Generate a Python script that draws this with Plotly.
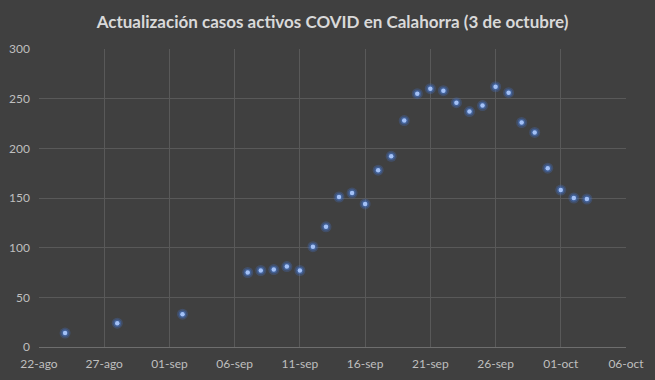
import plotly.graph_objects as go

dates = ["2020-08-24", "2020-08-28", "2020-09-02",
         "2020-09-07", "2020-09-08", "2020-09-09", "2020-09-10", "2020-09-11",
         "2020-09-12", "2020-09-13", "2020-09-14", "2020-09-15", "2020-09-16",
         "2020-09-17", "2020-09-18", "2020-09-19", "2020-09-20", "2020-09-21",
         "2020-09-22", "2020-09-23", "2020-09-24", "2020-09-25", "2020-09-26",
         "2020-09-27", "2020-09-28", "2020-09-29", "2020-09-30", "2020-10-01",
         "2020-10-02", "2020-10-03"]
casos = [14, 24, 33,
         75, 77, 78, 81, 77,
         101, 121, 151, 155, 144,
         178, 192, 228, 255, 260,
         258, 246, 237, 243, 262,
         256, 226, 216, 180, 158,
         150, 149]

tick_vals = ["2020-08-22", "2020-08-27", "2020-09-01", "2020-09-06", "2020-09-11",
             "2020-09-16", "2020-09-21", "2020-09-26", "2020-10-01", "2020-10-06"]
tick_text = ["22-ago", "27-ago", "01-sep", "06-sep", "11-sep",
             "16-sep", "21-sep", "26-sep", "01-oct", "06-oct"]

fig = go.Figure()
# glow
fig.add_trace(go.Scatter(x=dates, y=casos, mode="markers",
                         marker=dict(size=11, color="rgba(68,114,196,0.3)", line=dict(width=0)),
                         hoverinfo="skip", showlegend=False, cliponaxis=False))
fig.add_trace(go.Scatter(x=dates, y=casos, mode="markers",
                         marker=dict(size=7.5, color="rgba(68,114,196,0.5)", line=dict(width=0)),
                         hoverinfo="skip", showlegend=False, cliponaxis=False))
fig.add_trace(go.Scatter(x=dates, y=casos, mode="markers",
                         marker=dict(size=4.5, color="#a3c1f7", line=dict(width=0)),
                         showlegend=False, cliponaxis=False))

grid = "#595959"
fig.update_layout(
    width=655, height=380,
    paper_bgcolor="#404040", plot_bgcolor="#404040",
    margin=dict(l=39, r=29, t=49, b=33, autoexpand=False),
    title=dict(text="<b>Actualización casos activos COVID en Calahorra (3 de octubre)</b>",
               x=0.5, xanchor="center", y=0.942, yanchor="middle", xref="paper",
               font=dict(family="Lato", size=17, color="#d9d9d9")),
    font=dict(family="Lato", size=12, color="#bfbfbf"),
    xaxis=dict(type="date", range=["2020-08-22", "2020-10-06"],
               tickvals=tick_vals, ticktext=tick_text, automargin=False,
               showgrid=True, gridcolor=grid, gridwidth=1,
               showline=True, linecolor="#6e6e6e", zeroline=False,
               ticks="", ticklabelstandoff=6,
               tickfont=dict(size=12, color="#bfbfbf")),
    yaxis=dict(range=[0, 300], dtick=50, tick0=0, automargin=False,
               showgrid=True, gridcolor=grid, gridwidth=1,
               zeroline=False, showline=False, ticks="",
               ticklabelstandoff=8,
               tickfont=dict(size=12, color="#bfbfbf")),
)
fig.write_html("out.html", config={"displayModeBar": False},
               post_script="document.body.style.margin='0';document.body.style.background='#404040';")
